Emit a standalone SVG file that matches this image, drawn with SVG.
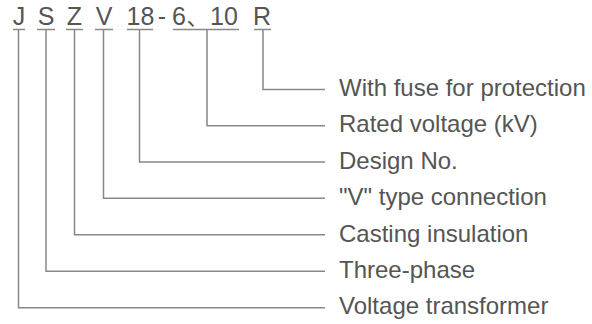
<svg xmlns="http://www.w3.org/2000/svg" width="592" height="324" viewBox="0 0 592 324">
<style>
.code{font-family:"Liberation Sans","Noto Sans CJK SC",Arial,sans-serif;font-size:25px;fill:#555;text-anchor:middle}
.lbl{font-family:"Liberation Sans",Arial,sans-serif;font-size:24px;fill:#555}
.ul{stroke:#888;stroke-width:1.5;fill:none}
.con{stroke:#888;stroke-width:1.5;fill:none}
</style>
<rect width="592" height="324" fill="#fff"/>
<g id="code-J"><text class="code" x="19" y="25">J</text><line class="ul" x1="13" y1="29.5" x2="25" y2="29.5"/></g>
<g id="code-S"><text class="code" x="46" y="25">S</text><line class="ul" x1="37" y1="29.5" x2="55" y2="29.5"/></g>
<g id="code-Z"><text class="code" x="74.5" y="25">Z</text><line class="ul" x1="66" y1="29.5" x2="83" y2="29.5"/></g>
<g id="code-V"><text class="code" x="104" y="25">V</text><line class="ul" x1="95" y1="29.5" x2="113" y2="29.5"/></g>
<g id="code-18"><text class="code" x="140.5" y="25">18</text><line class="ul" x1="127" y1="29.5" x2="153" y2="29.5"/></g>
<g id="code-dash"><text class="code" x="162" y="25">-</text></g>
<g id="code-6-10"><text class="code" x="179" y="25">6</text><text class="code" x="186.5" y="25" style="text-anchor:start;font-size:22px">、</text><text class="code" x="224" y="25">10</text><line class="ul" x1="173" y1="29.5" x2="239" y2="29.5"/></g>
<g id="code-R"><text class="code" x="262" y="25">R</text><line class="ul" x1="254" y1="29.5" x2="271" y2="29.5"/></g>
<g id="connectors">
<polyline class="con" points="263,30 263,89.5 325,89.5"/>
<polyline class="con" points="207,30 207,125.8 325,125.8"/>
<polyline class="con" points="139.5,30 139.5,162 325,162"/>
<polyline class="con" points="103.5,30 103.5,198.3 325,198.3"/>
<polyline class="con" points="74.5,30 74.5,234.7 325,234.7"/>
<polyline class="con" points="46,30 46,271.2 325,271.2"/>
<polyline class="con" points="18.5,30 18.5,307.7 325,307.7"/>
</g>
<g id="label-R"><text class="lbl" x="339" y="96">With fuse for protection</text></g>
<g id="label-6-10"><text class="lbl" x="339" y="132.4">Rated voltage (kV)</text></g>
<g id="label-18"><text class="lbl" x="339" y="168.8">Design No.</text></g>
<g id="label-V"><text class="lbl" x="339" y="205.2">"V" type connection</text></g>
<g id="label-Z"><text class="lbl" x="339" y="241.6">Casting insulation</text></g>
<g id="label-S"><text class="lbl" x="339" y="278">Three-phase</text></g>
<g id="label-J"><text class="lbl" x="339" y="314.4">Voltage transformer</text></g>
</svg>
